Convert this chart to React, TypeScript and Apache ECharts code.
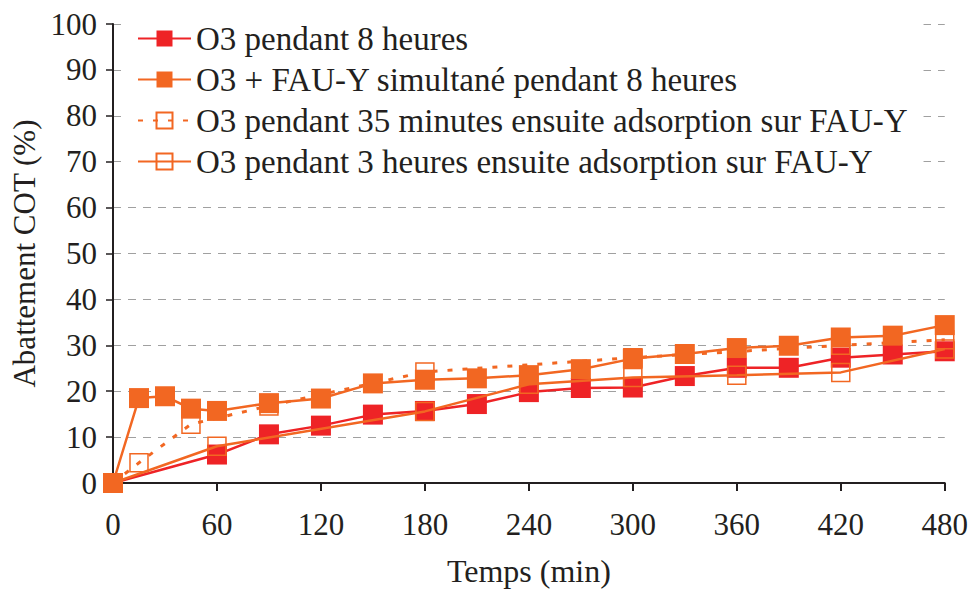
import React, { useEffect, useRef } from "react";
import * as echarts from "echarts";

const SERIES_NAMES = [
  "O3 pendant 8 heures",
  "O3 + FAU-Y simultané pendant 8 heures",
  "O3 pendant 35 minutes ensuite adsorption sur FAU-Y",
  "O3 pendant 3 heures ensuite adsorption sur FAU-Y",
];

const T_O3_8H = [0, 60, 90, 120, 150, 180, 210, 240, 270, 300, 330, 360, 390, 420, 450, 480];
const V_O3_8H = [0, 6.2, 10.6, 12.5, 14.9, 15.7, 17.2, 19.8, 20.7, 20.8, 23.3, 25.1, 25.1, 27.3, 28.0, 28.7];

const T_SIMUL = [0, 15, 30, 45, 60, 90, 120, 150, 180, 210, 240, 270, 300, 330, 360, 390, 420, 450, 480];
const V_SIMUL = [0, 18.5, 18.9, 16.2, 15.7, 17.4, 18.4, 21.7, 22.5, 22.8, 23.5, 24.8, 27.1, 28.1, 29.4, 29.9, 31.7, 32.1, 34.4];

const T_35MIN = [0, 15, 45, 90, 180, 300, 420, 480];
const V_35MIN = [0, 4.4, 12.8, 16.8, 24.2, 27.3, 30.0, 31.2];

const T_3H = [0, 60, 180, 240, 300, 360, 420, 480];
const V_3H = [0, 8.0, 15.6, 21.5, 23.0, 23.5, 24.1, 29.2];

const X_TICKS = [0, 60, 120, 180, 240, 300, 360, 420, 480];
const Y_TICKS = [0, 10, 20, 30, 40, 50, 60, 70, 80, 90, 100];

const RED = "#EE2326";
const ORANGE = "#F26722";
const FONT = "'Liberation Serif', 'Times New Roman', serif";

const pairs = (t: number[], v: number[]) => t.map((x, i) => [x, v[i]]);

export default function App() {
  const ref = useRef<HTMLDivElement>(null);
  useEffect(() => {
    const chart = echarts.init(ref.current!, null, { renderer: "svg" });
    chart.setOption({
      animation: false,
      backgroundColor: "#ffffff",
      grid: { left: 113, right: 23, top: 24, bottom: 104, containLabel: false },
      legend: {
        orient: "vertical",
        left: 125,
        top: 18,
        itemWidth: 53,
        itemHeight: 20,
        itemGap: 8,
        backgroundColor: "#ffffff",
        padding: [4, 16, 4, 12],
        textStyle: { fontFamily: FONT, fontSize: 33, color: "#231f20" },
        data: SERIES_NAMES,
      },
      xAxis: {
        type: "value",
        min: X_TICKS[0],
        max: X_TICKS[X_TICKS.length - 1],
        interval: 60,
        name: "Temps (min)",
        nameLocation: "middle",
        nameGap: 72,
        nameTextStyle: { fontFamily: FONT, fontSize: 32, color: "#231f20" },
        axisLine: { show: true, onZero: false, lineStyle: { color: "#231f20", width: 2 } },
        axisTick: { show: true, inside: false, length: 8, lineStyle: { color: "#231f20", width: 2 } },
        axisLabel: { fontFamily: FONT, fontSize: 31, color: "#231f20", margin: 26 },
        splitLine: { show: false },
      },
      yAxis: {
        type: "value",
        min: Y_TICKS[0],
        max: Y_TICKS[Y_TICKS.length - 1],
        interval: 10,
        name: "Abattement COT (%)",
        nameLocation: "middle",
        nameGap: 62,
        nameTextStyle: { fontFamily: FONT, fontSize: 31, color: "#231f20" },
        axisLine: { show: true, lineStyle: { color: "#231f20", width: 2 } },
        axisTick: { show: true, inside: false, length: 7, lineStyle: { color: "#231f20", width: 1.5 } },
        axisLabel: { fontFamily: FONT, fontSize: 31, color: "#231f20", margin: 16 },
        splitLine: { show: true, lineStyle: { color: "#a0a0a0", width: 1.2, type: [8, 7] } },
      },
      series: [
        {
          name: SERIES_NAMES[0],
          type: "line",
          z: 2,
          data: pairs(T_O3_8H, V_O3_8H),
          symbol: "rect",
          symbolSize: 20,
          lineStyle: { color: RED, width: 2.5 },
          itemStyle: { color: RED, borderColor: RED, borderWidth: 0 },
        },
        {
          name: SERIES_NAMES[1],
          type: "line",
          z: 4,
          data: pairs(T_SIMUL, V_SIMUL),
          symbol: "rect",
          symbolSize: 20,
          lineStyle: { color: ORANGE, width: 2.5 },
          itemStyle: { color: ORANGE, borderColor: ORANGE, borderWidth: 0 },
        },
        {
          name: SERIES_NAMES[2],
          type: "line",
          z: 3,
          data: pairs(T_35MIN, V_35MIN),
          symbol: "rect",
          symbolSize: 18,
          lineStyle: { color: ORANGE, width: 3, type: [5, 10] },
          itemStyle: { color: "rgba(255,255,255,0)", borderColor: ORANGE, borderWidth: 1.5 },
        },
        {
          name: SERIES_NAMES[3],
          type: "line",
          z: 3,
          data: pairs(T_3H, V_3H),
          symbol: "rect",
          symbolSize: 18,
          lineStyle: { color: ORANGE, width: 2.5 },
          itemStyle: { color: "rgba(255,255,255,0)", borderColor: ORANGE, borderWidth: 1.5 },
        },
      ],
    });
    return () => chart.dispose();
  }, []);
  return (
    <div
      ref={ref}
      style={{ position: "fixed", left: 0, top: 0, width: 971, height: 592 }}
    />
  );
}
